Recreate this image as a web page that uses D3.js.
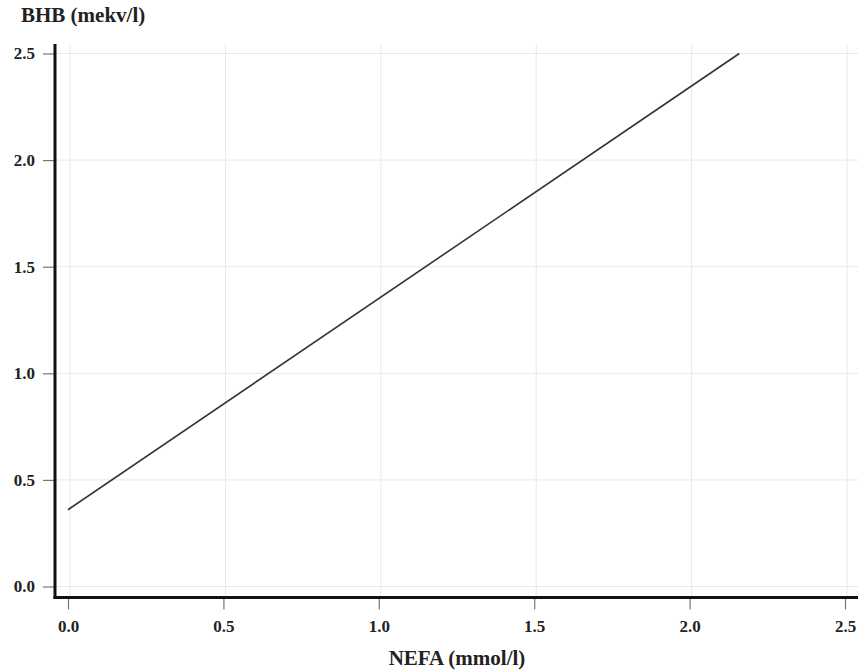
<!DOCTYPE html>
<html>
<head>
<meta charset="utf-8">
<script src="https://cdn.jsdelivr.net/npm/d3@7"></script>
<style>
  body { margin: 0; background: #fff; }
  text { font-family: "Liberation Serif", "Times New Roman", serif; font-weight: bold; fill: #222; }
</style>
</head>
<body>
<div id="chart"></div>
<script>
// regression line BHB vs NEFA
const nefa = [0.0, 2.16];
const bhb = [0.36, 2.5];
const xTicks = [0.0, 0.5, 1.0, 1.5, 2.0, 2.5];
const yTicks = [0.0, 0.5, 1.0, 1.5, 2.0, 2.5];

const width = 861, height = 672;

const svg = d3.select("#chart")
    .append("svg")
    .attr("width", width)
    .attr("height", height);

const x = d3.scaleLinear().domain([0, 2.5]).range([68, 845]);
const y = d3.scaleLinear().domain([0, 2.5]).range([586.5, 53.5]);

const axisX = 55, axisY = 597.5, plotTop = 44, plotRight = 858;

// grid
svg.append("g").selectAll("line.gx")
    .data(xTicks)
    .enter().append("line")
    .attr("x1", d => x(d) + 2).attr("x2", d => x(d) + 2)
    .attr("y1", plotTop).attr("y2", axisY)
    .attr("stroke", "#e8e8e8").attr("stroke-width", 1);

svg.append("g").selectAll("line.gy")
    .data(yTicks)
    .enter().append("line")
    .attr("x1", axisX).attr("x2", plotRight)
    .attr("y1", d => y(d)).attr("y2", d => y(d))
    .attr("stroke", "#e8e8e8").attr("stroke-width", 1);

// axes
const xAxis = d3.axisBottom(x).tickValues(xTicks).tickFormat(d3.format(".1f")).tickSize(12).tickSizeOuter(0);
const yAxis = d3.axisLeft(y).tickValues(yTicks).tickFormat(d3.format(".1f")).tickSize(12).tickSizeOuter(0);

const gx = svg.append("g").attr("transform", `translate(0,${axisY})`).call(xAxis);
const gy = svg.append("g").attr("transform", `translate(${axisX},0)`).call(yAxis);

[gx, gy].forEach(g => {
    g.select(".domain").remove();
    g.selectAll(".tick line").attr("stroke", "#777").attr("stroke-width", 1.2);
    g.selectAll(".tick text").style("font-size", "17px").attr("fill", "#222");
});
gx.selectAll(".tick text").attr("y", 34).attr("dy", null);
gy.selectAll(".tick text").attr("x", -20);

svg.append("line")
    .attr("x1", axisX).attr("x2", axisX)
    .attr("y1", plotTop).attr("y2", axisY + 1.5)
    .attr("stroke", "#111").attr("stroke-width", 3);
svg.append("line")
    .attr("x1", axisX - 1.5).attr("x2", plotRight)
    .attr("y1", axisY).attr("y2", axisY)
    .attr("stroke", "#111").attr("stroke-width", 3);

// line
const pts = nefa.map((d, i) => [d, bhb[i]]);
svg.append("path")
    .datum(pts)
    .attr("fill", "none")
    .attr("stroke", "#333")
    .attr("stroke-width", 1.6)
    .attr("d", d3.line().x(d => x(d[0])).y(d => y(d[1])));

// labels
svg.append("text")
    .attr("x", 21).attr("y", 22)
    .style("font-size", "21px")
    .text("BHB (mekv/l)");

svg.append("text")
    .attr("x", 457).attr("y", 665)
    .attr("text-anchor", "middle")
    .style("font-size", "21px")
    .text("NEFA (mmol/l)");
</script>
</body>
</html>
